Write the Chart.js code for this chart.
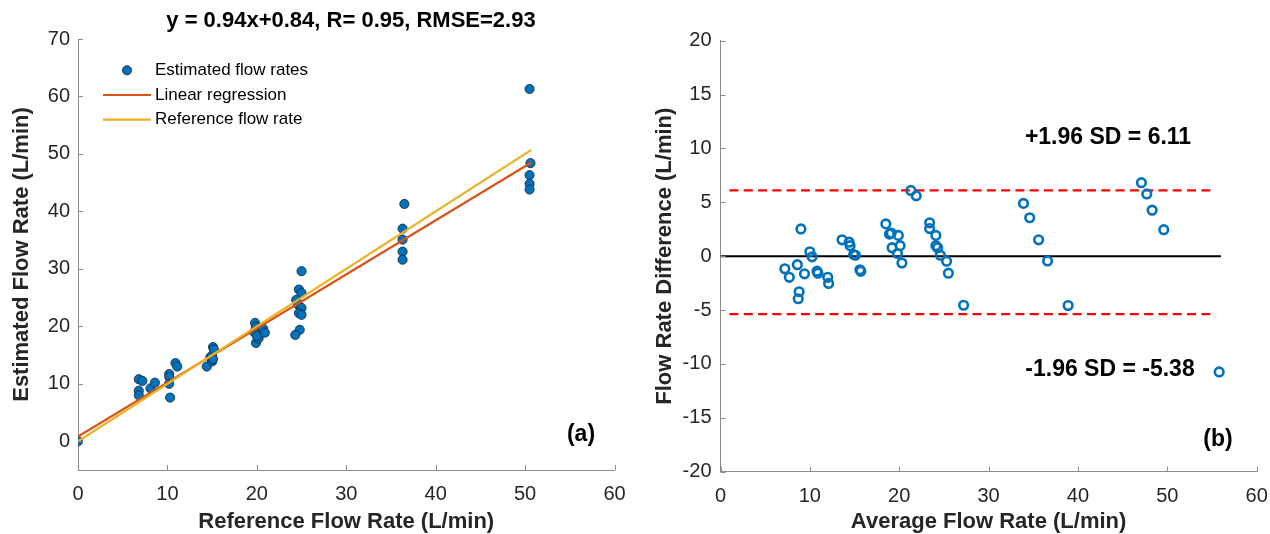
<!DOCTYPE html>
<html>
<head>
<meta charset="utf-8">
<title>Flow rate comparison</title>
<script src="https://cdn.jsdelivr.net/npm/chart.js@4.4.0/dist/chart.umd.min.js"></script>
<style>
    html, body { margin: 0; padding: 0; background: #fff; overflow: hidden; }
    #wrap { position: relative; width: 1270px; height: 534px; }
    .box { position: absolute; top: 0; height: 534px; }
    #boxA { left: 0; width: 640px; }
    #boxB { left: 640px; width: 630px; }
</style>
</head>
<body>
<div id="wrap">
    <div class="box" id="boxA"><canvas id="chartA"></canvas></div>
    <div class="box" id="boxB"><canvas id="chartB"></canvas></div>
</div>
<script>
// ---- (a) estimated vs reference flow rate ----
const refRate = [0,
    6.8, 7.2, 6.8, 6.8, 8.1, 8.6,
    10.2, 10.2, 10.2, 10.3, 10.9, 11.1,
    14.4, 14.8, 15.0, 15.1, 15.2, 15.0, 15.1,
    19.8, 19.9, 19.7, 19.9, 20.2, 20.7, 20.9, 20.0,
    25.0, 24.7, 25.0, 24.4, 24.6, 25.0, 24.7, 25.0, 24.8, 24.3,
    36.5, 36.3, 36.3, 36.3, 36.3,
    50.5, 50.6, 50.5, 50.5, 50.5];
const estRate = [0,
    10.8, 10.5, 8.8, 8.0, 9.2, 10.2,
    11.7, 11.2, 10.0, 7.6, 13.6, 13.0,
    13.0, 14.6, 14.9, 16.4, 16.0, 13.9, 14.3,
    20.6, 19.9, 19.0, 17.1, 17.9, 19.6, 18.9, 18.3,
    29.6, 26.4, 25.8, 24.6, 23.8, 23.2, 22.3, 22.0, 19.4, 18.5,
    41.3, 37.0, 35.1, 33.0, 31.6,
    61.3, 48.4, 46.3, 44.8, 43.8];
const fitX = [0, 50.7];
const regressionY = [0.84, 48.5];   // y = 0.94x + 0.84
const referenceY = [0, 50.7];       // y = x
const leftXTicks = [0, 10, 20, 30, 40, 50, 60];
const leftYTicks = [0, 10, 20, 30, 40, 50, 60, 70];

// ---- (b) Bland-Altman ----
const avgRate = [7.2, 7.7, 8.6, 9.0, 8.8, 8.7, 9.4, 10.0, 10.25, 10.8, 10.9, 12.0, 12.1,
    13.6, 14.4, 14.5, 14.9, 15.1, 15.6, 15.7,
    18.5, 18.9, 19.1, 19.9, 19.2, 20.1, 19.8, 20.3,
    21.3, 21.9,
    23.4, 23.4, 24.1, 24.1, 24.3, 24.6, 25.3, 25.5,
    27.2, 33.9, 34.6, 35.6, 36.6, 38.9,
    47.1, 47.7, 48.3, 49.6, 55.8];
const diffRate = [-1.17, -1.96, -0.79, 2.53, -3.3, -3.95, -1.64, 0.41, -0.06, -1.39, -1.58, -1.96, -2.53,
    1.52, 1.30, 0.98, 0.16, 0.09, -1.26, -1.40,
    3.0, 2.05, 2.15, 1.93, 0.79, 0.98, 0.25, -0.63,
    6.1, 5.6,
    3.1, 2.56, 1.93, 0.98, 0.79, 0.09, -0.47, -1.58,
    -4.55, 4.9, 3.57, 1.52, -0.44, -4.58,
    6.82, 5.78, 4.27, 2.46, -10.74];
const zeroLineX = [0, 56.0];
const limitLineX = [1.0, 55.4];
const upperLimit = 6.11;
const lowerLimit = -5.38;
const rightXTicks = [0, 10, 20, 30, 40, 50, 60];
const rightYTicks = [-20, -15, -10, -5, 0, 5, 10, 15, 20];

const FONT = '"Liberation Sans", Arial, Helvetica, sans-serif';
const AXIS_GREY = '#8a8a8a';
const TEXT_GREY = '#262626';

const toPoints = (xs, ys) => xs.map((x, i) => ({ x: x, y: ys[i] }));

// MATLAB style ticks drawn inside the axes
const inwardTicks = {
    id: 'inwardTicks',
    afterDatasetsDraw(chart) {
        const { ctx, chartArea, scales } = chart;
        ctx.save();
        ctx.strokeStyle = AXIS_GREY;
        ctx.lineWidth = 1;
        ctx.beginPath();
        scales.x.ticks.forEach(t => {
            const px = Math.round(scales.x.getPixelForValue(t.value)) + 0.5;
            ctx.moveTo(px, chartArea.bottom);
            ctx.lineTo(px, chartArea.bottom - 5);
        });
        scales.y.ticks.forEach(t => {
            const py = Math.round(scales.y.getPixelForValue(t.value)) + 0.5;
            ctx.moveTo(chartArea.left, py);
            ctx.lineTo(chartArea.left + 5, py);
        });
        ctx.stroke();
        ctx.restore();
    }
};

// free text labels (title, panel letters, SD notes)
const textNotes = {
    id: 'textNotes',
    afterDraw(chart, args, opts) {
        const ctx = chart.ctx;
        (opts.items || []).forEach(item => {
            ctx.save();
            ctx.font = item.font;
            ctx.fillStyle = item.color || '#000';
            ctx.textAlign = 'center';
            ctx.textBaseline = 'middle';
            ctx.fillText(item.text, item.x, item.y);
            ctx.restore();
        });
    }
};

// legend placed inside the axes, upper left
const innerLegend = {
    id: 'innerLegend',
    afterDraw(chart, args, opts) {
        if (!opts.show) return;
        const ctx = chart.ctx;
        ctx.save();
        ctx.font = '17px ' + FONT;
        ctx.textBaseline = 'middle';
        ctx.textAlign = 'left';
        chart.data.datasets.forEach((ds, i) => {
            const y = opts.top + i * opts.rowGap;
            if (ds.showLine) {
                ctx.strokeStyle = ds.borderColor;
                ctx.lineWidth = ds.borderWidth;
                ctx.beginPath();
                ctx.moveTo(opts.lineFrom, y);
                ctx.lineTo(opts.lineTo, y);
                ctx.stroke();
            } else {
                ctx.fillStyle = ds.backgroundColor;
                ctx.strokeStyle = ds.borderColor;
                ctx.lineWidth = ds.borderWidth;
                ctx.beginPath();
                ctx.arc((opts.lineFrom + opts.lineTo) / 2, y, ds.pointRadius, 0, Math.PI * 2);
                ctx.fill();
                ctx.stroke();
            }
            ctx.fillStyle = '#000';
            ctx.fillText(ds.label, opts.textX, y);
        });
        ctx.restore();
    }
};

function axisOptions(min, max, tickValues, title, fitSize, isX, tickPad, titlePad) {
    return {
        type: 'linear',
        min: min,
        max: max,
        afterBuildTicks: scale => { scale.ticks = tickValues.map(v => ({ value: v })); },
        afterFit: scale => {
            // fixed box sizes so the axes land where the figure has them
            if (isX) {
                scale.height = fitSize;
                scale.paddingLeft = 0;
                scale.paddingRight = 0;
            } else {
                scale.width = fitSize;
                scale.paddingTop = 0;
                scale.paddingBottom = 0;
            }
        },
        grid: { display: false, drawTicks: false },
        border: { display: true, color: AXIS_GREY, width: 1 },
        ticks: {
            color: TEXT_GREY,
            padding: tickPad,
            maxRotation: 0,
            autoSkip: false,
            font: { family: FONT, size: 20 }
        },
        title: {
            display: true,
            text: title,
            color: TEXT_GREY,
            padding: titlePad,
            font: { family: FONT, size: 22, weight: 'bold', lineHeight: 1.1 }
        }
    };
}

Chart.defaults.animation = false;

new Chart(document.getElementById('chartA'), {
    type: 'scatter',
    data: {
        datasets: [
            {
                label: 'Estimated flow rates',
                data: toPoints(refRate, estRate),
                backgroundColor: '#0072BD',
                borderColor: '#1c2430',
                borderWidth: 0.8,
                pointRadius: 4.6,
                order: 2
            },
            {
                label: 'Linear regression',
                data: toPoints(fitX, regressionY),
                showLine: true,
                borderColor: '#D95319',
                backgroundColor: '#D95319',
                borderWidth: 2.2,
                pointRadius: 0,
                order: 1
            },
            {
                label: 'Reference flow rate',
                data: toPoints(fitX, referenceY),
                showLine: true,
                borderColor: '#EDB120',
                backgroundColor: '#EDB120',
                borderWidth: 2.2,
                pointRadius: 0,
                order: 0
            }
        ]
    },
    options: {
        responsive: true,
        maintainAspectRatio: false,
        devicePixelRatio: 1,
        layout: { padding: { left: 0, top: 39, right: 25.5, bottom: 0 } },
        scales: {
            x: axisOptions(0, 60, leftXTicks, 'Reference Flow Rate (L/min)', 64, true, 12, { top: 0, bottom: 0 }),
            y: axisOptions(-5, 70, leftYTicks, 'Estimated Flow Rate (L/min)', 78, false, 8, { top: 9.9, bottom: 0 })
        },
        plugins: {
            legend: { display: false },
            tooltip: { enabled: false },
            innerLegend: { show: true, top: 70.3, rowGap: 24.7, lineFrom: 103, lineTo: 151, textX: 155 },
            textNotes: {
                items: [
                    { text: 'y = 0.94x+0.84, R= 0.95, RMSE=2.93', x: 351, y: 21, font: 'bold 22px ' + FONT },
                    { text: '(a)', x: 581, y: 435, font: 'bold 23px ' + FONT }
                ]
            }
        }
    },
    plugins: [inwardTicks, innerLegend, textNotes]
});

new Chart(document.getElementById('chartB'), {
    type: 'scatter',
    data: {
        datasets: [
            {
                label: 'Difference',
                data: toPoints(avgRate, diffRate),
                backgroundColor: 'rgba(0,0,0,0)',
                borderColor: '#0072BD',
                borderWidth: 2.6,
                pointRadius: 4.3,
                order: 0
            },
            {
                label: 'Zero',
                data: toPoints(zeroLineX, [0, 0]),
                showLine: true,
                borderColor: '#000000',
                borderWidth: 2,
                pointRadius: 0,
                order: 1
            },
            {
                label: '+1.96 SD',
                data: toPoints(limitLineX, [upperLimit, upperLimit]),
                showLine: true,
                borderColor: '#FF0000',
                borderWidth: 2.2,
                borderDash: [9, 5.3],
                pointRadius: 0,
                order: 1
            },
            {
                label: '-1.96 SD',
                data: toPoints(limitLineX, [lowerLimit, lowerLimit]),
                showLine: true,
                borderColor: '#FF0000',
                borderWidth: 2.2,
                borderDash: [9, 5.3],
                pointRadius: 0,
                order: 1
            }
        ]
    },
    options: {
        responsive: true,
        maintainAspectRatio: false,
        devicePixelRatio: 1,
        layout: { padding: { left: 0, top: 40.7, right: 13.3, bottom: 0 } },
        scales: {
            x: axisOptions(0, 60, rightXTicks, 'Average Flow Rate (L/min)', 62.3, true, 13, { top: 0, bottom: 0 }),
            y: axisOptions(-20, 20, rightYTicks, 'Flow Rate Difference (L/min)', 80.5, false, 9, { top: 12.9, bottom: 0 })
        },
        plugins: {
            legend: { display: false },
            tooltip: { enabled: false },
            textNotes: {
                items: [
                    { text: '+1.96 SD = ' + upperLimit.toFixed(2), x: 468, y: 138, font: 'bold 23px ' + FONT },
                    { text: '-1.96 SD = ' + lowerLimit.toFixed(2), x: 470, y: 370, font: 'bold 23px ' + FONT },
                    { text: '(b)', x: 578, y: 440, font: 'bold 23px ' + FONT }
                ]
            }
        }
    },
    plugins: [inwardTicks, textNotes]
});
</script>
</body>
</html>
